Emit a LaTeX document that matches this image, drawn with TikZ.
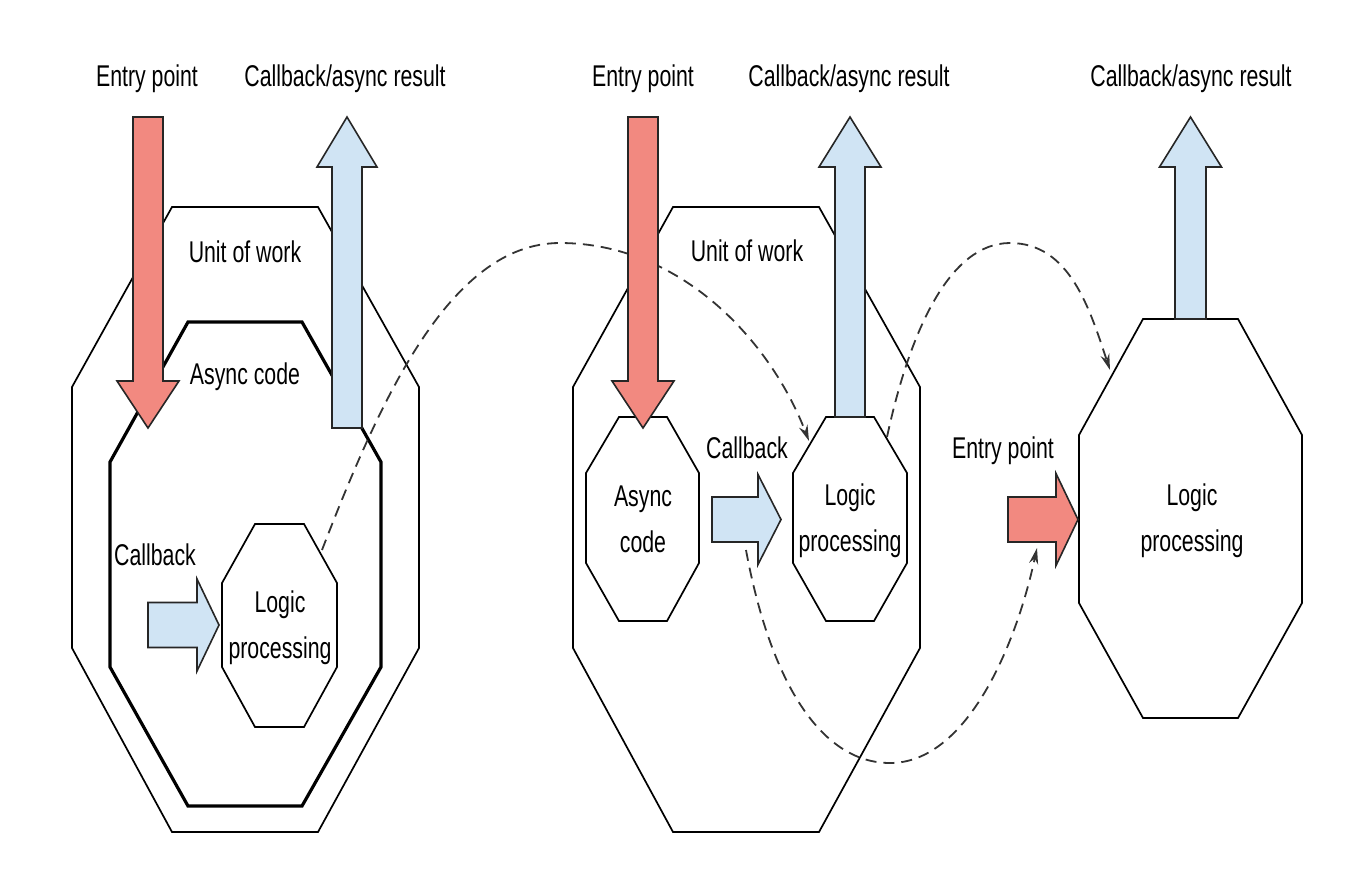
\documentclass[tikz,border=0pt]{standalone}
\usepackage{fontspec}
\setmainfont{Liberation Sans}[FakeStretch=0.71]
\usetikzlibrary{arrows.meta}
\definecolor{redfill}{RGB}{242,137,128}
\definecolor{bluefill}{RGB}{208,228,244}
% octagon: [style]{xL}{xl}{xr}{xR}{yT}{yu}{yl}{yB}
\newcommand{\octo}[9][]{\draw[#1] (#3,#6) -- (#4,#6) -- (#5,#7) -- (#5,#8) -- (#4,#9) -- (#3,#9) -- (#2,#8) -- (#2,#7) -- cycle;}
% vertical fat arrow: [style]{cx}{ystart}{yheadbase}{ytip}{halfshaft}{halfhead}
\newcommand{\fatv}[7][]{\draw[#1] ({#2-#6},#3) -- ({#2-#6},#4) -- ({#2-#7},#4) -- (#2,#5) -- ({#2+#7},#4) -- ({#2+#6},#4) -- ({#2+#6},#3) -- cycle;}
% horizontal fat arrow: [style]{cy}{xstart}{xheadbase}{xtip}{halfshaft}{halfhead}
\newcommand{\fath}[7][]{\draw[#1] (#3,{#2-#6}) -- (#4,{#2-#6}) -- (#4,{#2-#7}) -- (#5,#2) -- (#4,{#2+#7}) -- (#4,{#2+#6}) -- (#3,{#2+#6}) -- cycle;}
\begin{document}
\begin{tikzpicture}[x=0.5pt,y=-0.5pt,
  lbl/.style={font=\fontsize{15}{23}\selectfont, inner sep=0pt, align=center},
  octthin/.style={draw=black, line width=0.85pt},
  octthick/.style={draw=black, line width=1.6pt},
  fatred/.style={fill=redfill, draw=black!85, line width=0.8pt},
  fatblue/.style={fill=bluefill, draw=black!85, line width=0.8pt},
  flow/.style={draw=black!80, line width=0.9pt, dash pattern=on 5.5pt off 3.5pt,
    -{Stealth[length=8pt,width=4.5pt]}}]
\useasboundingbox (0,0) rectangle (1360,880);

% ---- octagons ----
\octo[octthin]{72}{172}{318}{419}{207}{387}{648}{832}
\octo[octthick]{110}{188}{302}{381}{322}{462}{667}{806}
\octo[octthin]{222}{255}{304}{337}{524}{583}{667}{727}
\octo[octthin]{573}{673}{819}{920}{207}{387}{648}{832}
\octo[octthin]{586}{619}{667}{699}{417}{473}{563}{621}
\octo[octthin]{793}{826}{874}{907}{417}{473}{563}{621}
\octo[octthin]{1079}{1143}{1238}{1302}{319}{435}{603}{718}

% ---- named end points of the flows ----
\coordinate (d1s) at (322,550);
\coordinate (d1m) at (560,243);
\coordinate (d1e) at (809,441);
\coordinate (d2s) at (746,550);
\coordinate (d2m) at (890,763);
\coordinate (d2e) at (1037,548);
\coordinate (d3s) at (887,437);
\coordinate (d3m) at (1010,243);
\coordinate (d3e) at (1110,370);

\draw[flow] (d1s) .. controls (380,400) and (450,243) .. (d1m) .. controls (680,243) and (770,340) .. (d1e);
\draw[flow] (d2s) .. controls (770,680) and (820,763) .. (d2m) .. controls (965,763) and (1015,650) .. (d2e);
\draw[flow] (d3s) .. controls (910,330) and (950,243) .. (d3m) .. controls (1070,243) and (1090,310) .. (d3e);

% ---- fat arrows ----
\fatv[fatred]{148}{117}{381}{428}{15}{31}
\fatv[fatblue]{347}{428}{167}{117}{15}{30}
\fatv[fatred]{643}{117}{381}{428}{15}{31}
\fatv[fatblue]{850}{417}{167}{117}{15}{31}
\fatv[fatblue]{1190.5}{319}{167}{117}{15.5}{31}
\fath[fatblue]{625}{148}{197}{219}{22.5}{46}
\fath[fatblue]{519.5}{712}{758}{781}{22.5}{45}
\fath[fatred]{519.5}{1008}{1056}{1078}{22.5}{46}

% ---- labels ----
\node[lbl, anchor=base] (epA) at (147,86) {Entry point};
\node[lbl, anchor=base] (crA) at (345,86) {Callback/async result};
\node[lbl, anchor=base] (epB) at (643,86) {Entry point};
\node[lbl, anchor=base] (crB) at (849,86) {Callback/async result};
\node[lbl, anchor=base] (crC) at (1191,86) {Callback/async result};
\node[lbl, anchor=base] (uowA) at (245,262) {Unit of work};
\node[lbl, anchor=base] (uowB) at (747,261) {Unit of work};
\node[lbl, anchor=base] (asyncA) at (245,384) {Async code};
\node[lbl, anchor=base] (cbA) at (155,565) {Callback};
\node[lbl, anchor=base] (cbB) at (747,458) {Callback};
\node[lbl, anchor=base] (epC) at (1003,458) {Entry point};
\node[lbl] (logicA) at (280,628) {Logic\\processing};
\node[lbl] (asyncB) at (643,519) {Async\\code};
\node[lbl] (logicB) at (850,521) {Logic\\processing};
\node[lbl] (logicC) at (1192,521) {Logic\\processing};
\end{tikzpicture}
\end{document}
